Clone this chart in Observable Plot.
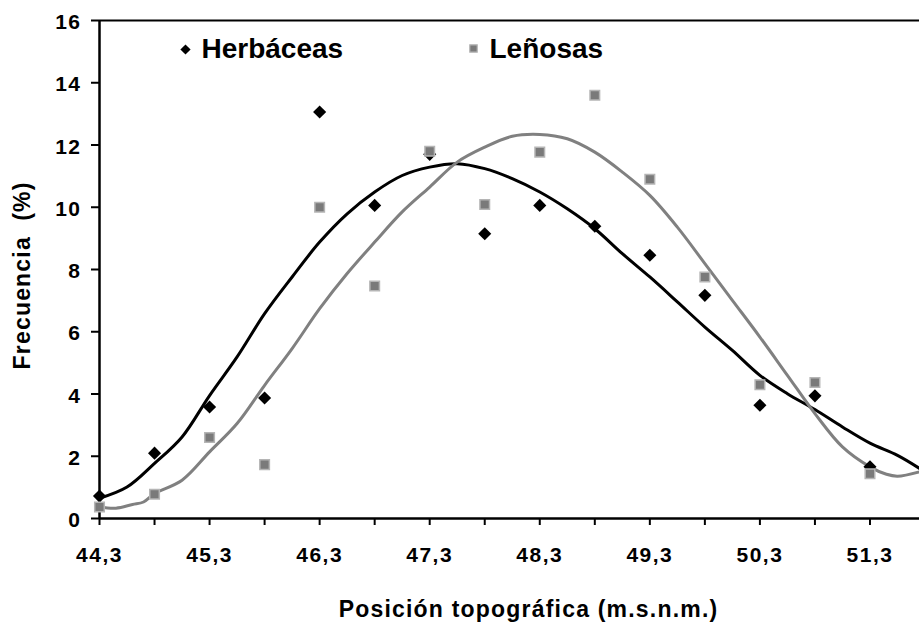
<!DOCTYPE html>
<html>
<head>
<meta charset="utf-8">
<script src="https://cdn.jsdelivr.net/npm/d3@7"></script>
<script src="https://cdn.jsdelivr.net/npm/@observablehq/plot@0.6"></script>
<style>
  html, body { margin: 0; padding: 0; background: #fff; }
</style>
</head>
<body>
<div id="chart"></div>
<script>
// ---- Data ----
const posicion = [44.3, 44.8, 45.3, 45.8, 46.3, 46.8, 47.3, 47.8, 48.3, 48.8, 49.3, 49.8, 50.3, 50.8, 51.3];
const herbaceas = [0.72, 2.1, 3.58, 3.87, 13.06, 10.06, 11.7, 9.15, 10.06, 9.39, 8.46, 7.17, 3.64, 3.94, 1.66];
const lenosas = [0.37, 0.78, 2.6, 1.73, 10.0, 7.47, 11.8, 10.09, 11.77, 13.6, 10.9, 7.76, 4.3, 4.37, 1.44];

// Trend curves
const curvaHerbX = [44.3, 44.55, 44.8, 45.05, 45.3, 45.55, 45.8, 46.05, 46.3, 46.55, 46.8, 47.05, 47.3, 47.55, 47.8, 48.05, 48.3, 48.55, 48.8, 49.05, 49.3, 49.55, 49.8, 50.05, 50.3, 50.55, 50.8, 51.05, 51.3, 51.55, 51.75];
const curvaHerbY = [0.65, 1.01, 1.77, 2.62, 3.95, 5.19, 6.58, 7.76, 8.88, 9.79, 10.49, 11.02, 11.29, 11.40, 11.24, 10.92, 10.49, 9.95, 9.31, 8.51, 7.76, 6.96, 6.15, 5.40, 4.60, 4.01, 3.50, 2.94, 2.42, 2.03, 1.61];
const curvaLenX = [44.3, 44.45, 44.6, 44.7, 44.8, 45.05, 45.3, 45.55, 45.8, 46.05, 46.3, 46.55, 46.8, 47.05, 47.3, 47.55, 47.8, 48.05, 48.3, 48.55, 48.8, 49.05, 49.3, 49.55, 49.8, 50.05, 50.3, 50.55, 50.8, 51.05, 51.3, 51.45, 51.55, 51.75];
const curvaLenY = [0.37, 0.33, 0.45, 0.53, 0.80, 1.23, 2.14, 3.05, 4.28, 5.46, 6.74, 7.87, 8.88, 9.85, 10.65, 11.45, 11.93, 12.28, 12.34, 12.2, 11.77, 11.13, 10.38, 9.36, 8.19, 7.01, 5.83, 4.60, 3.37, 2.30, 1.66, 1.42, 1.36, 1.50];

// Axis ticks and labels
const xTicks = [44.3, 44.8, 45.3, 45.8, 46.3, 46.8, 47.3, 47.8, 48.3, 48.8, 49.3, 49.8, 50.3, 50.8, 51.3];
const xTickLabels = ["44,3", "", "45,3", "", "46,3", "", "47,3", "", "48,3", "", "49,3", "", "50,3", "", "51,3"];
const yTicks = [0, 2, 4, 6, 8, 10, 12, 14, 16];
const yTickLabels = ["0", "2", "4", "6", "8", "10", "12", "14", "16"];
const seriesNames = ["Herbáceas", "Leñosas"];
const xTitle = "Posición topográfica (m.s.n.m.)";
const yTitle = "Frecuencia\u00a0 (%)";

// ---- Build tables ----
const herbPts = posicion.map((x, i) => ({x, y: herbaceas[i]}));
const lenPts = posicion.map((x, i) => ({x, y: lenosas[i]}));
const herbCurve = curvaHerbX.map((x, i) => ({x, y: curvaHerbY[i]}));
const lenCurve = curvaLenX.map((x, i) => ({x, y: curvaLenY[i]}));
const xLabelRows = xTicks.map((x, i) => ({x, label: xTickLabels[i]})).filter(d => d.label);
const yLabelRows = yTicks.map((y, i) => ({y, label: yTickLabels[i]}));

const GRAY = "#808080";
const FONT = "'Liberation Sans', Arial, Helvetica, sans-serif";

const chart = Plot.plot({
  width: 919,
  height: 622,
  marginLeft: 99,
  marginRight: 0,
  marginTop: 20,
  marginBottom: 104,
  style: {fontFamily: FONT, fontWeight: "bold", background: "#fff", color: "#000", overflow: "visible"},
  x: {domain: [44.3, 51.75], axis: null},
  y: {domain: [0, 16], axis: null},
  marks: [
    // frame lines
    Plot.ruleY([16], {stroke: "#000", strokeWidth: 2}),
    Plot.ruleY([0], {stroke: "#000", strokeWidth: 2.5}),
    Plot.ruleX([44.3], {stroke: "#000", strokeWidth: 2.5}),
    // tick marks
    Plot.axisX({ticks: xTicks, tickSize: 7, tickFormat: () => "", stroke: "#000", strokeWidth: 2, label: null}),
    Plot.axisY({ticks: yTicks, tickSize: 8, tickFormat: () => "", stroke: "#000", strokeWidth: 2, label: null}),
    // tick labels
    Plot.text(xLabelRows, {x: "x", frameAnchor: "bottom", dy: 37, text: "label", textAnchor: "middle", lineAnchor: "middle", fontSize: 21, fontWeight: "bold", fill: "#000"}),
    Plot.text(yLabelRows, {y: "y", frameAnchor: "left", dx: -18, dy: 2, text: "label", textAnchor: "end", lineAnchor: "middle", fontSize: 21, fontWeight: "bold", fill: "#000"}),
    // trend lines
    Plot.line(herbCurve, {x: "x", y: "y", stroke: "#000", strokeWidth: 3, curve: "catmull-rom"}),
    Plot.line(lenCurve, {x: "x", y: "y", stroke: GRAY, strokeWidth: 3, curve: "catmull-rom"}),
    // points
    Plot.dot(herbPts, {x: "x", y: "y", symbol: "diamond2", r: 5.9, fill: "#000", stroke: "none"}),
    Plot.dot(lenPts, {x: "x", y: "y", symbol: "square", r: 5.4, fill: "#7a7a7a", stroke: "#b5b5b5", strokeWidth: 1.5}),
    // legend
    Plot.dot([seriesNames[0]], {frameAnchor: "top-left", dx: 86, dy: 29, symbol: "diamond2", r: 4.6, fill: "#000", stroke: "none"}),
    Plot.text([seriesNames[0]], {frameAnchor: "top-left", dx: 102, dy: 29, text: d => d, textAnchor: "start", lineAnchor: "middle", fontSize: 28, fontWeight: "bold", fill: "#000"}),
    Plot.dot([seriesNames[1]], {frameAnchor: "top-left", dx: 374, dy: 28, symbol: "square", r: 4.2, fill: "#7a7a7a", stroke: "#b5b5b5", strokeWidth: 1.2}),
    Plot.text([seriesNames[1]], {frameAnchor: "top-left", dx: 390, dy: 29, text: d => d, textAnchor: "start", lineAnchor: "middle", fontSize: 28, fontWeight: "bold", fill: "#000"}),
    // axis titles
    Plot.text([xTitle], {frameAnchor: "bottom", dx: 19, dy: 91, text: d => d, textAnchor: "middle", lineAnchor: "middle", fontSize: 23, fontWeight: "bold", fill: "#000"}),
    Plot.text([yTitle], {frameAnchor: "left", dx: -77, dy: 6, rotate: -90, text: d => d, textAnchor: "middle", lineAnchor: "middle", fontSize: 23, fontWeight: "bold", fill: "#000"})
  ]
});

document.getElementById("chart").appendChild(chart);

// letter spacing to match the reference rendering
const tickSet = new Set([...xTickLabels.filter(d => d), ...yTickLabels]);
d3.select(chart).selectAll("text").each(function () {
  const t = this.textContent;
  if (tickSet.has(t)) this.style.letterSpacing = "1.5px";
  else if (t === xTitle || t === yTitle) this.style.letterSpacing = "1.2px";
});
</script>
</body>
</html>
